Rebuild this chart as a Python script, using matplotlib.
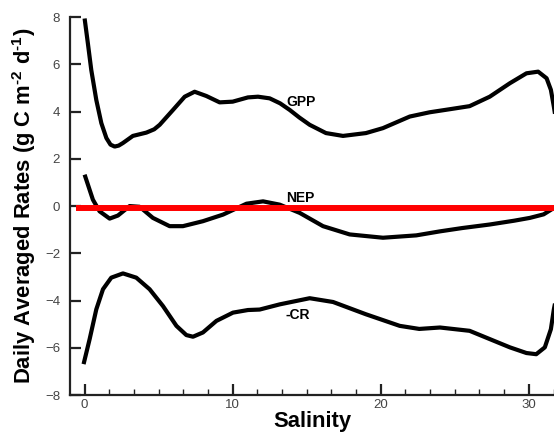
import matplotlib
matplotlib.use('Agg')
import matplotlib.pyplot as plt
from matplotlib.ticker import MultipleLocator

plt.rcParams['font.family'] = ['Liberation Sans', 'DejaVu Sans']
plt.rcParams['mathtext.fontset'] = 'custom'
plt.rcParams['mathtext.rm'] = 'Liberation Sans:bold'
plt.rcParams['mathtext.bf'] = 'Liberation Sans:bold'
plt.rcParams['mathtext.default'] = 'rm'

# values
gpp_x = [0.0, 0.22, 0.45, 0.79, 1.13, 1.47, 1.75, 2.03, 2.3, 2.59, 3.26, 4.17, 4.7, 5.07,
         5.97, 6.76, 7.43, 8.22, 9.12, 10.0, 11.03, 11.71, 12.5, 13.2, 13.85, 14.5, 15.2,
         16.3, 17.45, 19.0, 20.15, 21.96, 23.3, 24.66, 26.0, 27.36, 28.72, 29.84, 30.63,
         31.2, 31.49, 31.69, 32.0]
gpp_y = [7.94, 6.89, 5.76, 4.49, 3.51, 2.88, 2.6, 2.52, 2.56, 2.67, 2.97, 3.11, 3.25, 3.44,
         4.07, 4.63, 4.84, 4.66, 4.39, 4.42, 4.6, 4.63, 4.56, 4.35, 4.07, 3.75, 3.44,
         3.09, 2.97, 3.09, 3.3, 3.79, 3.97, 4.1, 4.23, 4.63, 5.2, 5.62, 5.69,
         5.41, 4.92, 4.21, 3.0]

nep_x = [0.0, 0.56, 1.01, 1.69, 2.25, 3.04, 3.72, 4.61, 5.74, 6.64, 7.99, 9.35, 10.93,
         12.05, 13.18, 14.53, 16.1, 17.9, 20.15, 22.4, 24.0, 25.5, 27.36, 29.0, 30.07,
         31.0, 31.69, 32.0]
nep_y = [1.33, 0.27, -0.22, -0.53, -0.4, 0.0, -0.03, -0.5, -0.85, -0.85, -0.64, -0.36, 0.1,
         0.2, 0.06, -0.29, -0.85, -1.2, -1.34, -1.24, -1.07, -0.93, -0.78, -0.62, -0.5,
         -0.35, -0.08, 0.05]

cr_x = [-0.07, 0.34, 0.79, 1.24, 1.8, 2.59, 3.49, 4.39, 5.29, 6.2, 6.87, 7.32, 7.99,
        8.9, 10.02, 11.03, 11.82, 13.18, 15.2, 16.78, 19.0, 21.28, 22.6, 24.0, 26.0,
        27.36, 28.72, 29.84, 30.5, 31.08, 31.49, 31.69, 32.0]
cr_y = [-6.69, -5.63, -4.37, -3.52, -3.03, -2.85, -3.03, -3.52, -4.23, -5.07, -5.46, -5.53,
        -5.35, -4.86, -4.51, -4.4, -4.38, -4.16, -3.9, -4.06, -4.58, -5.07, -5.2, -5.14,
        -5.28, -5.63, -5.98, -6.22, -6.27, -5.98, -5.21, -4.37, -3.4]

zero_x = [-0.55, 32.0]
zero_y = [-0.1, -0.1]

labels = ['GPP', 'NEP', '-CR']
label_x = [13.6, 13.6, 13.6]
label_y = [4.42, 0.35, -4.6]

fig = plt.figure(figsize=(5.54, 4.38), dpi=100)
ax = fig.add_axes([0.126, 0.098, 0.874, 0.863])

for xs, ys in [(gpp_x, gpp_y), (nep_x, nep_y), (cr_x, cr_y)]:
    ax.plot(xs, ys, color='black', lw=3.0, solid_capstyle='butt', solid_joinstyle='round')
ax.plot(zero_x, zero_y, color='#ff0000', lw=4.3, solid_capstyle='butt')

for name, lx, ly in zip(labels, label_x, label_y):
    ax.text(lx, ly, name, fontsize=10, fontweight='bold', ha='left', va='center')

ax.set_xlim(-1, 31.7)
ax.set_ylim(-8, 8)
ax.xaxis.set_major_locator(MultipleLocator(10))
ax.xaxis.set_minor_locator(MultipleLocator(10 / 6))
ax.yaxis.set_major_locator(MultipleLocator(2))

for side in ['top', 'right']:
    ax.spines[side].set_visible(False)
for side in ['left', 'bottom']:
    ax.spines[side].set_linewidth(1.6)
    ax.spines[side].set_color('#222222')

ax.tick_params(which='major', direction='in', length=8, width=1.6, colors='#222222',
               labelcolor='#444444', labelsize=9.5)
ax.tick_params(which='minor', direction='in', length=4, width=1.0, colors='#222222')
ax.tick_params(axis='y', pad=7)
ax.tick_params(axis='x', pad=3)

ax.set_xlabel('Salinity', fontsize=15.8, fontweight='bold', labelpad=0)
ax.set_ylabel('Daily Averaged Rates (g C m$^{\\text{-2}}$ d$^{\\text{-1}}$)',
              fontsize=15.8, fontweight='bold', labelpad=5)

fig.savefig('out.png', dpi=100)
